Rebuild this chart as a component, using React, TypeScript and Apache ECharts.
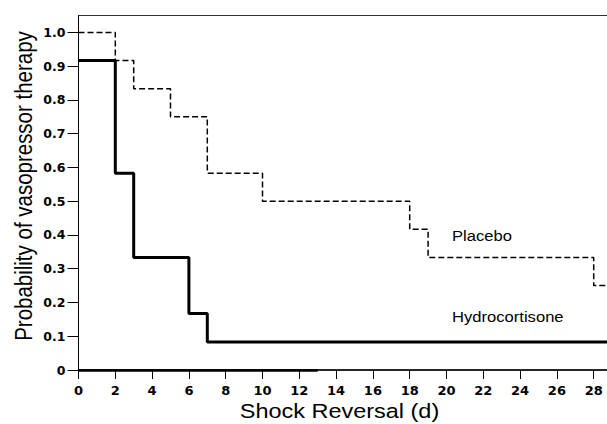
import React, { useEffect, useRef } from "react";
import * as echarts from "echarts";

const placeboDays = [0, 2, 3, 5, 7, 10, 18, 19, 28, 30];
const placeboProb = [1.0, 0.917, 0.833, 0.75, 0.583, 0.5, 0.417, 0.333, 0.25, 0.25];
const hydroDays = [0, 2, 3, 6, 7, 30];
const hydroProb = [0.917, 0.583, 0.333, 0.167, 0.083, 0.083];
const xTicks = [0, 2, 4, 6, 8, 10, 12, 14, 16, 18, 20, 22, 24, 26, 28];
const yTicks = [0, 0.1, 0.2, 0.3, 0.4, 0.5, 0.6, 0.7, 0.8, 0.9, 1.0];
const xTitle = "Shock Reversal (d)";
const yTitle = "Probability of vasopressor therapy";
const seriesNames = ["Placebo", "Hydrocortisone"];

const FONT = "'Liberation Sans', Arial, Helvetica, sans-serif";
const TICK_FONT = "'DejaVu Sans', 'Liberation Sans', sans-serif";
const STRETCH = 1.145;

export default function App() {
  const ref = useRef<HTMLDivElement>(null);
  useEffect(() => {
    if (!ref.current) return;
    const chart = echarts.init(ref.current, undefined, { renderer: "svg" });
    chart.setOption({
      animation: false,
      backgroundColor: "#ffffff",
      grid: {
        left: 78.5,
        right: 9.5,
        top: 15.5,
        bottom: 54,
        show: true,
        borderColor: "#333",
        borderWidth: 1,
        containLabel: false,
      },
      xAxis: {
        type: "value",
        min: 0,
        max: 30,
        interval: 2,
        splitLine: { show: false },
        axisLine: { show: true, onZero: false, lineStyle: { color: "#000", width: 1.5 } },
        axisTick: { show: true, length: 9, customValues: xTicks, lineStyle: { color: "#000", width: 1 } },
        axisLabel: {
          customValues: xTicks,
          margin: 14,
          color: "#000",
          fontFamily: TICK_FONT,
          fontWeight: "bold",
          fontSize: 13,
        },
      },
      yAxis: {
        type: "value",
        min: 0,
        max: 1.05,
        interval: 0.1,
        splitLine: { show: false },
        axisLine: { show: true, lineStyle: { color: "#000", width: 1 } },
        axisTick: { show: true, length: 11, customValues: yTicks, lineStyle: { color: "#000", width: 1 } },
        axisLabel: {
          customValues: yTicks,
          margin: 13,
          color: "#000",
          fontFamily: TICK_FONT,
          fontWeight: "bold",
          fontSize: 12.5,
          formatter: (v: number) => (v === 0 ? "0" : v.toFixed(1)),
        },
      },
      series: [
        {
          name: seriesNames[0],
          type: "line",
          step: "end",
          symbol: "none",
          clip: true,
          data: placeboDays.map((d, i) => [d, placeboProb[i]]),
          lineStyle: { color: "#000", width: 1.5, type: [6, 3] },
          z: 3,
        },
        {
          name: seriesNames[1],
          type: "line",
          step: "end",
          symbol: "none",
          clip: true,
          data: hydroDays.map((d, i) => [d, hydroProb[i]]),
          lineStyle: { color: "#000", width: 3 },
          z: 4,
          markLine: {
            silent: true,
            symbol: "none",
            label: { show: false },
            lineStyle: { color: "#000", width: 2.5, type: "solid" },
            data: [[{ coord: [0, 0] }, { coord: [13, 0] }]],
          },
        },
      ],
      graphic: [
        {
          type: "text",
          x: 339.5,
          y: 411,
          scaleX: STRETCH,
          style: {
            text: xTitle,
            fill: "#000",
            font: `20.5px ${FONT}`,
            align: "center",
            verticalAlign: "middle",
          },
        },
        {
          type: "text",
          x: 24,
          y: 186,
          rotation: Math.PI / 2,
          scaleY: STRETCH,
          style: {
            text: yTitle,
            fill: "#000",
            font: `20.5px ${FONT}`,
            align: "center",
            verticalAlign: "middle",
          },
        },
        {
          type: "text",
          x: 452,
          y: 236,
          scaleX: STRETCH,
          style: {
            text: seriesNames[0],
            fill: "#000",
            font: `14.5px ${FONT}`,
            align: "left",
            verticalAlign: "middle",
          },
        },
        {
          type: "text",
          x: 452,
          y: 317,
          scaleX: STRETCH,
          style: {
            text: seriesNames[1],
            fill: "#000",
            font: `14.5px ${FONT}`,
            align: "left",
            verticalAlign: "middle",
          },
        },
      ],
    });
    return () => chart.dispose();
  }, []);
  return <div ref={ref} style={{ width: 640, height: 424, position: "fixed", left: 0, top: 0 }} />;
}
